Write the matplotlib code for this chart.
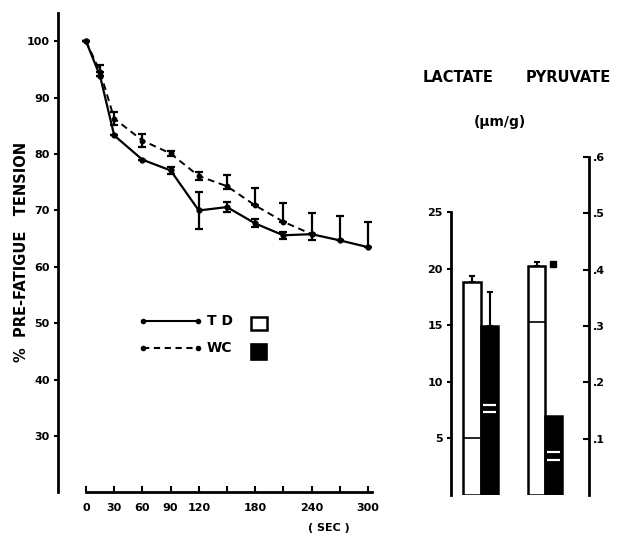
#!/usr/bin/env python3

# fatigue curves (TD vs WC) with lactate / pyruvate bars

import matplotlib
matplotlib.use('Agg')
import matplotlib.pyplot as plt
import matplotlib.patches as patches

# --- data ---
time_td = [0, 15, 30, 60, 90, 120, 150, 180, 210, 240, 270, 300]
tension_td = [100, 93.8, 83.3, 79.0, 77.1, 70.0, 70.6, 67.7, 65.6, 65.8, 64.7, 63.5]
err_td_lo = [0, 0, 0, 0, 0.6, 3.3, 0.9, 0.7, 0.6, 1.0, 0, 0]
err_td_hi = [0, 0, 0, 0, 0.6, 3.3, 0.9, 0.7, 0.6, 3.7, 4.3, 4.4]

time_wc = [0, 15, 30, 60, 90, 120, 150, 180, 210, 240]
tension_wc = [100, 94.6, 86.3, 82.4, 80.1, 76.1, 74.3, 70.9, 68.0, 65.8]
err_wc_lo = [0, 0, 1.2, 1.2, 0.5, 0.7, 0.5, 0, 0, 0]
err_wc_hi = [0, 1.2, 1.2, 1.2, 0.5, 0.7, 2.0, 3.0, 3.3, 0]

x_ticks = [0, 30, 60, 90, 120, 150, 180, 210, 240, 270, 300]
x_labels = ['0', '30', '60', '90', '120', '', '180', '', '240', '', '300']
y_ticks = [30, 40, 50, 60, 70, 80, 90, 100]

groups = ['TD', 'WC']
lactate = [18.85, 14.9]
lactate_err = [0.5, 3.05]
lactate_rest = [5.0, None]
lactate_marks = [None, (7.36, 7.95)]
pyruvate = [0.406, 0.140]
pyruvate_err = [0.008, 0]
pyruvate_rest = [0.307, None]
pyruvate_marks = [None, (0.062, 0.0765)]

W, H = 621, 550
fig = plt.figure(figsize=(W / 100, H / 100), dpi=100)
fnt = dict(family='DejaVu Sans', fontweight='bold')
tick_fs = 8

# --- left panel ---
ax = fig.add_axes([58 / W, 58 / H, 314 / W, 479 / H])
ax.set_xlim(-29.8, 304.3)
ax.set_ylim(20.1, 105)
for s in ['top', 'right']:
    ax.spines[s].set_visible(False)
ax.spines['left'].set_linewidth(2)
ax.spines['bottom'].set_linewidth(2)
ax.spines['bottom'].set_bounds(0, 304.3)

ax.errorbar(time_td, tension_td, yerr=[err_td_lo, err_td_hi], color='black',
            lw=1.6, marker='o', ms=3.5, capsize=3, elinewidth=1.6, capthick=1.6)
ax.errorbar(time_wc, tension_wc, yerr=[err_wc_lo, err_wc_hi], color='black',
            lw=1.4, ls=(0, (3.5, 2.4)), marker='o', ms=3.2, capsize=3,
            elinewidth=1.6, capthick=1.6)

ax.set_xticks(x_ticks)
ax.set_xticklabels(x_labels, **fnt, fontsize=tick_fs)
ax.set_yticks(y_ticks)
ax.set_yticklabels([str(v) for v in y_ticks], **fnt, fontsize=tick_fs)
ax.tick_params(axis='x', direction='in', length=4, width=1.5, pad=8)
ax.tick_params(axis='y', direction='out', length=3, width=1.5, pad=3)

# legend drawn by hand
tr = ax.transAxes
def fx(px):
    return (px - 58) / 314
def fy(py):
    return (492 - py) / 479
ax.plot([fx(143), fx(198)], [fy(321), fy(321)], transform=tr, color='black',
        lw=1.5, marker='o', ms=3)
ax.plot([fx(143), fx(198)], [fy(348), fy(348)], transform=tr, color='black',
        lw=1.5, ls=(0, (3, 2.2)), marker='o', ms=3)
ax.text(fx(207), fy(321), 'T D', transform=tr, va='center', ha='left', fontsize=10, **fnt)
ax.text(fx(207), fy(348), 'WC', transform=tr, va='center', ha='left', fontsize=10, **fnt)
ax.add_patch(patches.Rectangle((fx(251), fy(330)), 16 / 314, 13 / 479, transform=tr,
                               facecolor='white', edgecolor='black', lw=1.8))
ax.add_patch(patches.Rectangle((fx(251), fy(360)), 16 / 314, 16 / 479, transform=tr,
                               facecolor='black', edgecolor='black', lw=1.2))

fig.text(22 / W, 1 - 252 / H, '%  PRE-FATIGUE   TENSION', rotation=90,
         ha='center', va='center', fontsize=10.5, **fnt)
fig.text(329 / W, 1 - 528 / H, '( SEC )', ha='center', va='center', fontsize=8, **fnt)

# --- right panel ---
bx = fig.add_axes([451 / W, 55 / H, 138 / W, 338 / H])
bx.set_xlim(0, 138)
bx.set_ylim(0, 29.86)
for s in ['top', 'bottom', 'right']:
    bx.spines[s].set_visible(False)
bx.spines['left'].set_linewidth(2)
bx.spines['left'].set_bounds(0, 25)
bx.set_xticks([])
bx.set_yticks([5, 10, 15, 20, 25])
bx.set_yticklabels(['5', '10', '15', '20', '25'], fontsize=tick_fs, **fnt)
bx.tick_params(axis='y', direction='out', length=3, width=1.5, pad=3)

px = bx.twinx()
px.set_ylim(0, 0.6)
for s in ['top', 'bottom', 'left']:
    px.spines[s].set_visible(False)
px.spines['right'].set_linewidth(2)
px.set_yticks([0.1, 0.2, 0.3, 0.4, 0.5, 0.6])
px.set_yticklabels(['.1', '.2', '.3', '.4', '.5', '.6'], fontsize=tick_fs, **fnt)
px.tick_params(axis='y', direction='in', length=4, width=1.5, pad=3)

lac_x = [(12, 18), (30, 17)]
pyr_x = [(77, 17), (94, 17)]
colors = ['white', 'black']
for i, g in enumerate(groups):
    x0, w = lac_x[i]
    bx.bar(x0, lactate[i], width=w, align='edge', color=colors[i],
           edgecolor='black', lw=1.8)
    if lactate_err[i]:
        bx.errorbar(x0 + w / 2, lactate[i], yerr=[[0], [lactate_err[i]]],
                    color='black', capsize=2.5, elinewidth=1.5, capthick=1.5)
    if lactate_rest[i] is not None:
        bx.hlines(lactate_rest[i], x0, x0 + w, color='black', lw=1.2)
    if lactate_marks[i] is not None:
        bx.hlines(lactate_marks[i], x0 + 2, x0 + w - 2, color='white', lw=1.6)

    x0, w = pyr_x[i]
    px.bar(x0, pyruvate[i], width=w, align='edge', color=colors[i],
           edgecolor='black', lw=1.8)
    if pyruvate_err[i]:
        px.errorbar(x0 + w / 2, pyruvate[i], yerr=[[0], [pyruvate_err[i]]],
                    color='black', capsize=2.5, elinewidth=1.5, capthick=1.5)
    if pyruvate_rest[i] is not None:
        px.hlines(pyruvate_rest[i], x0, x0 + w, color='black', lw=1.2)
    if pyruvate_marks[i] is not None:
        px.hlines(pyruvate_marks[i], x0 + 2, x0 + w - 2, color='white', lw=1.6)

# significance mark beside TD pyruvate bar
px.plot([pyr_x[1][0] + 8], [pyruvate[0] + 0.004], marker='s', color='black', ms=4.5)

fig.text(458 / W, 1 - 77 / H, 'LACTATE', ha='center', va='center', fontsize=10.5, **fnt)
fig.text(568 / W, 1 - 77 / H, 'PYRUVATE', ha='center', va='center', fontsize=10.5, **fnt)
fig.text(500 / W, 1 - 122 / H, '(\u03bcm/g)', ha='center', va='center', fontsize=10, **fnt)

fig.savefig('out.png', dpi=100)
